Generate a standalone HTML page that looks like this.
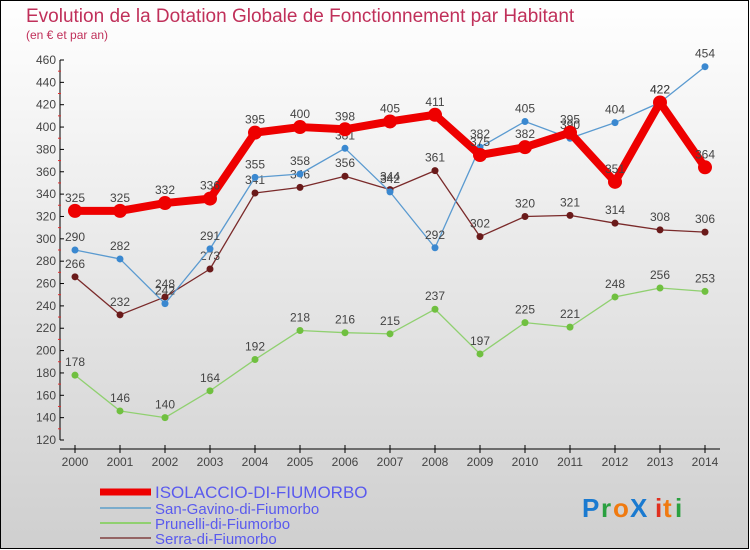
<!DOCTYPE html>
<html><head><meta charset="utf-8"><style>
body{margin:0;}
#wrap{position:relative;width:750px;height:550px;overflow:hidden;font-family:"Liberation Sans",sans-serif;}
svg text{font-family:"Liberation Sans",sans-serif;}
</style></head><body>
<div id="wrap">
<svg id="chart" width="750" height="550" xmlns="http://www.w3.org/2000/svg">
<defs>
<linearGradient id="bg" x1="0" y1="0" x2="0" y2="1">
<stop offset="0" stop-color="#ffffff"/><stop offset="1" stop-color="#cfcfcf"/>
</linearGradient>
</defs>
<rect x="0.5" y="0.5" width="748" height="548" fill="url(#bg)" stroke="#000"/>
<text x="26" y="22" font-size="19" fill="#c0305a">Evolution de la Dotation Globale de Fonctionnement par Habitant</text>
<text x="26" y="39" font-size="12" fill="#c0305a">(en € et par an)</text>
<g id="axes"></g>
<g id="series"></g>
<g id="legend"></g>
<g font-size="26" font-weight="bold">
<text x="582" y="517" fill="#1a7ad0">P</text><text x="601" y="517" fill="#2aa040">r</text><text x="613" y="517" fill="#f07a10">o</text><text x="630" y="517" fill="#1a7ad0">X</text><text x="655" y="517" fill="#e03020">i</text><text x="663" y="517" fill="#f07a10">t</text><text x="675" y="517" fill="#2aa040">i</text>
</g>
</svg>
</div>
<script>
const years=[2000,2001,2002,2003,2004,2005,2006,2007,2008,2009,2010,2011,2012,2013,2014];
const isolaccio=[325,325,332,336,395,400,398,405,411,375,382,395,351,422,364];
const sanGavino=[290,282,242,291,355,358,381,342,292,382,405,390,404,422,454];
const prunelli=[178,146,140,164,192,218,216,215,237,197,225,221,248,256,253];
const serra=[266,232,248,273,341,346,356,344,361,302,320,321,314,308,306];
const yTicks=[120,140,160,180,200,220,240,260,280,300,320,340,360,380,400,420,440,460];
const NS="http://www.w3.org/2000/svg";
const x=i=>75+i*45;
const y=v=>440-(v-120)*380/340;
function mk(tag,attrs,parent,txt){const e=document.createElementNS(NS,tag);for(const k in attrs)e.setAttribute(k,attrs[k]);if(txt!==undefined)e.textContent=txt;parent.appendChild(e);return e;}
const axes=document.getElementById('axes');
let ya=mk('line',{x1:60,y1:60,x2:60,y2:440,stroke:'#000'},axes);


yTicks.forEach((t,i)=>{
  const yy=y(t);
  mk('line',{x1:60,y1:yy,x2:64,y2:yy,stroke:'#000'},axes);
  if(i<yTicks.length-1)mk('line',{x1:58,y1:yy-11.2,x2:61,y2:yy-11.2,stroke:'#e03030'},axes);
  const tl=mk('text',{x:56,y:yy+4,'font-size':12,'text-anchor':'end',fill:'#444'},axes,String(t));
  
  
});
let xa=mk('line',{x1:60,y1:449,x2:720,y2:449,stroke:'#000'},axes);


years.forEach((yr,i)=>{
  mk('line',{x1:x(i),y1:445,x2:x(i),y2:453,stroke:'#000'},axes);
  const tl=mk('text',{x:x(i),y:466,'font-size':12,'text-anchor':'middle',fill:'#444'},axes,String(yr));
  
  
});
const seriesG=document.getElementById('series');
const defs=[
 {d:serra,c:'#7a2a2a',dot:'#6a1a1a',w:1.3,r:3.5,name:'serra'},
 {d:prunelli,c:'#90d070',dot:'#70c040',w:1.3,r:3.5,name:'prunelli'},
 {d:sanGavino,c:'#5a9ad0',dot:'#3a88d0',w:1.3,r:3.5,name:'san-gavino'},
 {d:isolaccio,c:'#ee0000',dot:'#ee0000',w:8,r:7,name:'isolaccio'}
];
defs.forEach(s=>{
  const g=mk('g',{},seriesG);
  
  
  const p=mk('polyline',{points:s.d.map((v,i)=>x(i)+','+y(v)).join(' '),fill:'none',stroke:s.c,'stroke-width':s.w,'stroke-linejoin':'round'},g);
  
  
  s.d.forEach((v,i)=>{
    const c=mk('circle',{cx:x(i),cy:y(v),r:s.r,fill:s.dot},g);
    
    
    const t=mk('text',{x:x(i),y:y(v)-9,'font-size':12,'text-anchor':'middle',fill:'#444'},g,String(v));
    
    
  });
});
const legend=document.getElementById('legend');
const leg=[['ISOLACCIO-DI-FIUMORBO','#ee0000',7,492,'#5a5aee',17],['San-Gavino-di-Fiumorbo','#7aaccc',2,508,'#5a5aee',15],['Prunelli-di-Fiumorbo','#90d070',2,523,'#5a5aee',15],['Serra-di-Fiumorbo','#946464',2,538,'#5a5aee',15]];
leg.forEach(l=>{
  const g=mk('g',{},legend);
  
  
  mk('line',{x1:100,y1:l[3],x2:151,y2:l[3],stroke:l[1],'stroke-width':l[2]},g);
  mk('text',{x:155,y:l[3]+6,'font-size':l[5],fill:l[4]},g,l[0]);
});
</script>
</body></html>
